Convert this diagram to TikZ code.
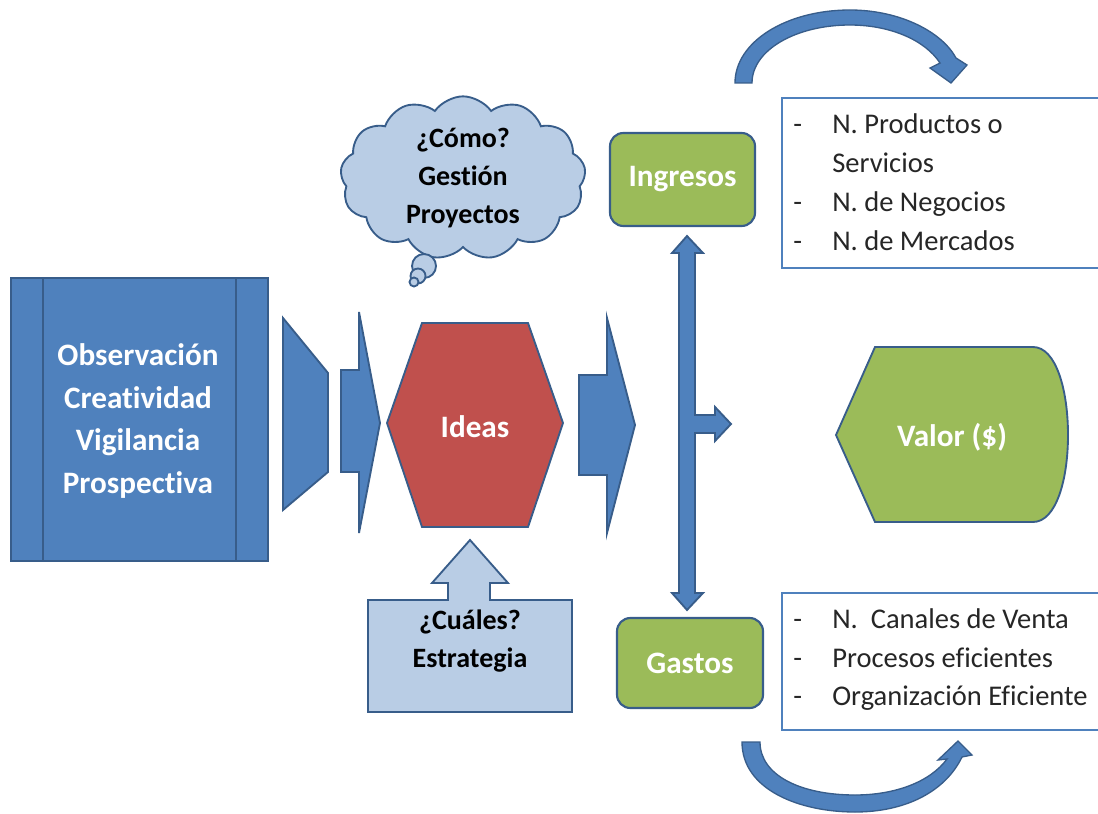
\documentclass[tikz,border=0pt]{standalone}
\usepackage{fontspec}
\setmainfont{Carlito}[Ligatures=NoCommon]
\usetikzlibrary{shapes.symbols}
\definecolor{shapeblue}{HTML}{4F81BD}
\definecolor{edgeblue}{HTML}{385D8A}
\definecolor{ideared}{HTML}{C0504D}
\definecolor{leafgreen}{HTML}{9BBB59}
\definecolor{paleblue}{HTML}{B9CDE5}
\newcommand{\labelfont}{\fontsize{23.4}{32}\selectfont\bfseries}
\newcommand{\notefont}{\fontsize{21}{28.5}\selectfont\bfseries}
\newcommand{\listfont}{\fontsize{21.4}{29}\selectfont}
\begin{document}
\begin{tikzpicture}[x=0.75pt,y=-0.75pt,
  bluebody/.style={fill=shapeblue,draw=edgeblue,line width=1.4pt,line join=miter},
  palebody/.style={fill=paleblue,draw=edgeblue,line width=1.4pt},
  greenbox/.style={fill=leafgreen,draw=edgeblue,line width=1.6pt,rounded corners=10pt,
    text=white,font=\labelfont,inner sep=0pt},
  whitelabel/.style={text=white,font=\labelfont,align=center,inner sep=0pt},
  darklabel/.style={text=black,font=\notefont,align=center,inner sep=0pt},
  listbox/.style={draw=shapeblue,line width=1.1pt,fill=white},
  listtext/.style={font=\listfont,anchor=base west,inner sep=0pt,text=black!85}]
\useasboundingbox (0,0) rectangle (1098,813);

% left block: observation sources (predefined-process box)
\node[bluebody,rectangle,minimum width=192.75pt,minimum height=212.25pt] (src) at (139.5,419.5) {};
\draw[edgeblue,line width=1.4pt] (43,278) -- (43,561) (236,278) -- (236,561);
\node[whitelabel] (srctxt) at (138,421) {Observación\\Creatividad\\Vigilancia\\Prospectiva};

% funnel and first arrow
\path[bluebody] (283,318) -- (328,373) -- (328,472) -- (283,510) -- cycle;
\path[bluebody] (341,370) -- (359,370) -- (359,312) -- (380,423) -- (359,533)
  -- (359,472) -- (341,472) -- cycle;

% ideas hexagon
\path[fill=ideared,draw=edgeblue,line width=1.4pt] (422,323) -- (528,323) -- (563,423)
  -- (528,527) -- (422,527) -- (387,423) -- cycle;
\node[whitelabel] (ideas) at (475,427) {Ideas};

% second arrow
\path[bluebody] (579,375) -- (607,375) -- (607,318) -- (635,425) -- (607,533)
  -- (607,475) -- (579,475) -- cycle;

% thought cloud
\node[cloud,cloud puffs=13,cloud puff arc=110,aspect=1.5,palebody,
  minimum width=184pt,minimum height=122pt,darklabel,text width=110pt] (how) at (463,178)
  {¿Cómo?\\Gestión\\Proyectos};
\draw[palebody] (424,266) circle (12);
\draw[palebody] (418,276) circle (7.5);
\draw[palebody] (414,282) circle (4.5);

% strategy callout with up arrow
\path[palebody] (368,600) -- (448,600) -- (448,583) -- (432,583) -- (470,540)
  -- (508,583) -- (490,583) -- (490,600) -- (572,600) -- (572,712) -- (368,712) -- cycle;
\node[darklabel] (which) at (470,641) {¿Cuáles?\\Estrategia};

% income and costs
\node[greenbox,minimum width=108.75pt,minimum height=69.75pt] (ing) at (682.5,179.5) {Ingresos};
\node[greenbox,minimum width=109.5pt,minimum height=67.5pt] (gas) at (690,663) {Gastos};

% double arrow between income and costs, with branch to value
\path[bluebody] (687,236) -- (703,253) -- (695,253) -- (695,415) -- (715,415)
  -- (715,407) -- (731,424) -- (715,441) -- (715,433) -- (695,433) -- (695,593)
  -- (703,593) -- (687,610) -- (672,593) -- (679,593) -- (679,253) -- (672,253) -- cycle;

% value display shape
\path[fill=leafgreen,draw=edgeblue,line width=1.4pt] (836,435) -- (875,347) -- (1033,347)
  .. controls (1056,347) and (1068,390) .. (1068,435)
  .. controls (1068,480) and (1056,522) .. (1033,522) -- (875,522) -- cycle;
\node[whitelabel] (value) at (952,437) {Valor (\$)};

% income list
\draw[listbox] (782,98) rectangle (1100,268);
\node[listtext] (i1d) at (793,133) {-};
\node[listtext] (i1) at (832,133) {N. Productos o};
\node[listtext] (i1b) at (832,172) {Servicios};
\node[listtext] (i2d) at (793,211) {-};
\node[listtext] (i2) at (832,211) {N. de Negocios};
\node[listtext] (i3d) at (793,250) {-};
\node[listtext] (i3) at (832,250) {N. de Mercados};

% costs list
\draw[listbox] (782,593) rectangle (1100,730);
\node[listtext] (g1d) at (793,628) {-};
\node[listtext] (g1) at (832,628) {N.\ \ Canales de Venta};
\node[listtext] (g2d) at (793,667) {-};
\node[listtext] (g2) at (832,667) {Procesos eficientes};
\node[listtext] (g3d) at (793,705) {-};
\node[listtext] (g3) at (832,705) {Organización Eficiente};

% curved arrow over the income list
\path[bluebody,line width=1pt] (735,83) .. controls (735,42) and (786,10) .. (850,10)
  .. controls (900,10) and (942,32) .. (956,58) -- (967,65) -- (951,83) -- (930,68)
  -- (940,63) .. controls (925,40) and (890,25) .. (850,25)
  .. controls (796,25) and (752,50) .. (752,83) -- cycle;

% curved arrow under the costs list
\path[bluebody,line width=1pt] (742,742) .. controls (742,790) and (800,812) .. (855,812)
  .. controls (905,812) and (945,792) .. (962,757) -- (972,755) -- (958,741) -- (938,760)
  -- (947,759) .. controls (930,782) and (895,795) .. (855,795)
  .. controls (800,795) and (760,775) .. (760,742) -- cycle;
\end{tikzpicture}
\end{document}
